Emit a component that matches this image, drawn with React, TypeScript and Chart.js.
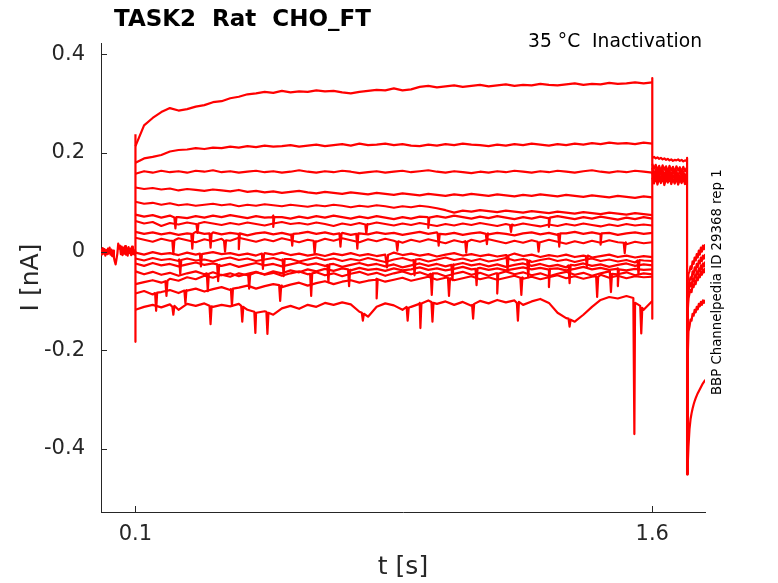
import React, { useEffect, useRef } from "react";
import { Chart, registerables } from "chart.js";

Chart.register(...registerables);

const RED = "#ff0000";
const AXIS = "#262626";
const FONT = '"DejaVu Sans"';

const titleText = "TASK2  Rat  CHO_FT";
const conditionText = "35 °C  Inactivation";
const sourceText = "BBP Channelpedia ID 29368 rep 1";

// axis ticks
const xTickValues = [0.1, 1.6];
const xTickLabels = ["0.1", "1.6"];
const yTickValues = [-0.4, -0.2, 0, 0.2, 0.4];
const yTickLabels = ["-0.4", "-0.2", "0", "0.2", "0.4"];

// holding current before the pulse (t in s, I in nA)
const holdT = [
  0, 0.0025, 0.005, 0.0075, 0.01, 0.0125, 0.015, 0.0175, 0.02, 0.0225,
  0.025, 0.0275, 0.03, 0.0325, 0.035, 0.0375, 0.04, 0.0425, 0.045, 0.0475,
  0.05, 0.0525, 0.055, 0.0575, 0.06, 0.0625, 0.065, 0.0675, 0.07, 0.0725,
  0.075, 0.0775, 0.08, 0.0825, 0.085, 0.0875, 0.09, 0.0925, 0.095, 0.0975,
  0.1,
];
const holdI = [
  0.004, -0.006, 0.007, -0.004, 0.005, -0.008, 0.003, -0.005, 0.006, -0.003,
  0.008, -0.006, 0.004, -0.009, 0.002, -0.012, -0.02, -0.026, -0.015, -0.004,
  0.016, 0.006, 0.012, -0.005, 0.01, -0.007, 0.008, -0.004, 0.011, -0.006,
  0.007, -0.008, 0.009, -0.003, 0.006, -0.007, 0.01, -0.005, 0.004, -0.006,
  0.002,
];

// capacitive transients at the voltage steps
const onsetT = [0.1, 0.1, 0.1];
const onsetI = [0, -0.183, 0.238];
const stepT = [1.6, 1.6, 1.6];
const stepI = [0.352, -0.136, 0.17];
const dropT = [1.701, 1.701];
const dropI = [0.19, -0.452];

// conditioning pulse samples
const pulseT = [
  0.1, 0.125, 0.15, 0.175, 0.2, 0.225, 0.25, 0.275, 0.3, 0.325,
  0.35, 0.375, 0.4, 0.425, 0.45, 0.475, 0.5, 0.525, 0.55, 0.575,
  0.6, 0.625, 0.65, 0.675, 0.7, 0.725, 0.75, 0.775, 0.8, 0.825,
  0.85, 0.875, 0.9, 0.925, 0.95, 0.975, 1.0, 1.025, 1.05, 1.075,
  1.1, 1.125, 1.15, 1.175, 1.2, 1.225, 1.25, 1.275, 1.3, 1.325,
  1.35, 1.375, 1.4, 1.425, 1.45, 1.475, 1.5, 1.525, 1.55, 1.575,
  1.6,
];

const sweep01 = [
  0.214, 0.256, 0.271, 0.283, 0.291, 0.286, 0.289, 0.294, 0.297, 0.303,
  0.305, 0.311, 0.314, 0.319, 0.321, 0.324, 0.322, 0.326, 0.323, 0.325,
  0.324, 0.327, 0.325, 0.326, 0.323, 0.321, 0.324, 0.326, 0.328, 0.327,
  0.331, 0.327, 0.329, 0.334, 0.336, 0.333, 0.335, 0.337, 0.334, 0.336,
  0.338, 0.335, 0.337, 0.339, 0.336, 0.338, 0.337, 0.34, 0.338, 0.337,
  0.339, 0.341, 0.338, 0.34, 0.339, 0.342, 0.34, 0.341, 0.343, 0.341,
  0.343,
];
const sweep02 = [
  0.18, 0.189, 0.192, 0.196, 0.203, 0.206, 0.207, 0.21, 0.208, 0.211,
  0.21, 0.213, 0.211, 0.214, 0.212, 0.215, 0.213, 0.214, 0.216, 0.213,
  0.215, 0.217, 0.214, 0.216, 0.218, 0.215, 0.219, 0.216, 0.217, 0.219,
  0.216, 0.218, 0.215, 0.214, 0.217, 0.215, 0.218, 0.216, 0.219, 0.217,
  0.216, 0.214, 0.217, 0.215, 0.218, 0.216, 0.219, 0.217, 0.215, 0.218,
  0.216, 0.219, 0.217, 0.22, 0.218, 0.221, 0.219, 0.22, 0.218, 0.221,
  0.219,
];
const sweep03 = [
  0.158, 0.163, 0.16, 0.164, 0.161, 0.163, 0.16, 0.164, 0.162, 0.165,
  0.161, 0.163, 0.16, 0.162, 0.164, 0.161, 0.163, 0.16, 0.162, 0.165,
  0.162, 0.16, 0.163, 0.161, 0.164, 0.162, 0.159, 0.161, 0.163, 0.16,
  0.162, 0.164, 0.161, 0.163, 0.165, 0.162, 0.16, 0.163, 0.161, 0.159,
  0.162, 0.16, 0.163, 0.161, 0.164, 0.162, 0.16, 0.163, 0.161, 0.164,
  0.162, 0.16, 0.163, 0.165, 0.162, 0.16, 0.163, 0.161, 0.164, 0.162,
  0.16,
];
const sweep04 = [
  0.13, 0.127, 0.129, 0.126, 0.128, 0.124, 0.127, 0.125, 0.123, 0.126,
  0.124, 0.122, 0.125, 0.121, 0.123, 0.12, 0.122, 0.119, 0.121, 0.123,
  0.12, 0.118, 0.121, 0.119, 0.117, 0.12, 0.118, 0.116, 0.119, 0.117,
  0.115, 0.118, 0.116, 0.114, 0.117, 0.115, 0.113, 0.116, 0.114, 0.117,
  0.115, 0.113, 0.116, 0.114, 0.112, 0.115, 0.113, 0.116, 0.114, 0.112,
  0.115, 0.113, 0.111, 0.114, 0.112, 0.11, 0.113, 0.111, 0.109, 0.112,
  0.11,
];
const sweep05 = [
  0.101, 0.097, 0.099, 0.095, 0.098, 0.094, 0.096, 0.093, 0.095, 0.097,
  0.094, 0.096, 0.092, 0.095, 0.093, 0.096, 0.094, 0.092, 0.095, 0.093,
  0.091, 0.094, 0.092, 0.095, 0.093, 0.09, 0.093, 0.091, 0.094, 0.092,
  0.089, 0.092, 0.09, 0.093, 0.091, 0.088, 0.084, 0.079, 0.083, 0.081,
  0.084, 0.082, 0.08, 0.083, 0.081, 0.079, 0.082, 0.08, 0.078, 0.081,
  0.079, 0.077, 0.08, 0.078, 0.076, 0.079, 0.077, 0.075, 0.078, 0.076,
  0.074,
];
const sweep06 = [
  0.075, 0.071, 0.074, 0.069, 0.073, 0.07, 0.068, 0.072, 0.069, 0.073,
  0.07, 0.074, 0.071, 0.068, 0.072, 0.069, 0.073, 0.07, 0.067, 0.071,
  0.068, 0.072, 0.069, 0.073, 0.07, 0.067, 0.071, 0.068, 0.072, 0.069,
  0.066, 0.07, 0.067, 0.071, 0.068, 0.072, 0.069, 0.073, 0.07, 0.067,
  0.071, 0.068, 0.072, 0.069, 0.066, 0.07, 0.067, 0.071, 0.068, 0.072,
  0.069, 0.066, 0.07, 0.067, 0.071, 0.068, 0.065, 0.069, 0.066, 0.07,
  0.067,
];
const sweep07 = [
  0.062, 0.057, 0.06, 0.052, 0.058, 0.055, 0.059, 0.056, 0.06, 0.057,
  0.054, 0.058, 0.055, 0.059, 0.056, 0.053, 0.057, 0.06, 0.056, 0.058,
  0.055, 0.059, 0.056, 0.052, 0.057, 0.054, 0.058, 0.055, 0.059, 0.056,
  0.053, 0.057, 0.054, 0.058, 0.055, 0.052, 0.056, 0.053, 0.057, 0.054,
  0.058, 0.055, 0.052, 0.056, 0.053, 0.057, 0.054, 0.051, 0.055, 0.052,
  0.056, 0.053, 0.057, 0.054, 0.051, 0.055, 0.052, 0.056, 0.053, 0.055,
  0.053,
];
const sweep08 = [
  0.04, 0.036, 0.039, 0.035, 0.038, 0.034, 0.037, 0.04, 0.036, 0.039,
  0.035, 0.038, 0.036, 0.033, 0.037, 0.039, 0.035, 0.038, 0.034, 0.037,
  0.04, 0.036, 0.039, 0.035, 0.038, 0.034, 0.037, 0.035, 0.039, 0.036,
  0.038, 0.034, 0.037, 0.04, 0.036, 0.039, 0.035, 0.038, 0.034, 0.037,
  0.039, 0.035, 0.038, 0.036, 0.033, 0.037, 0.039, 0.035, 0.038, 0.034,
  0.037, 0.04, 0.036, 0.039, 0.035, 0.038, 0.034, 0.037, 0.039, 0.036,
  0.038,
];
const sweep09 = [
  0.028, 0.024, 0.02, 0.026, 0.022, 0.027, 0.023, 0.019, 0.025, 0.021,
  0.026, 0.022, 0.028, 0.024, 0.02, 0.025, 0.021, 0.027, 0.023, 0.019,
  0.024, 0.02, 0.026, 0.022, 0.027, 0.023, 0.019, 0.025, 0.021, 0.026,
  0.022, 0.018, 0.024, 0.02, 0.025, 0.021, 0.017, 0.023, 0.019, 0.024,
  0.02, 0.025, 0.021, 0.017, 0.022, 0.018, 0.023, 0.019, 0.024, 0.02,
  0.016, 0.021, 0.017, 0.022, 0.018, 0.023, 0.019, 0.015, 0.02, 0.017,
  0.019,
];
const sweep10 = [
  -0.002, -0.006, -0.001, -0.005, -0.003, -0.007, -0.002, -0.006, -0.004, -0.001,
  -0.005, -0.003, -0.007, -0.004, -0.008, -0.003, -0.006, -0.002, -0.007, -0.004,
  -0.008, -0.005, -0.009, -0.004, -0.007, -0.003, -0.008, -0.005, -0.009, -0.006,
  -0.002, -0.007, -0.004, -0.008, -0.005, -0.01, -0.006, -0.003, -0.008, -0.005,
  -0.009, -0.006, -0.01, -0.007, -0.004, -0.009, -0.006, -0.011, -0.007, -0.01,
  -0.006, -0.011, -0.008, -0.012, -0.009, -0.006, -0.011, -0.008, -0.012, -0.009,
  -0.011,
];
const sweep11 = [
  -0.014, -0.018, -0.013, -0.017, -0.015, -0.019, -0.014, -0.018, -0.016, -0.02,
  -0.015, -0.012, -0.017, -0.014, -0.019, -0.016, -0.013, -0.018, -0.015, -0.02,
  -0.016, -0.012, -0.017, -0.014, -0.019, -0.015, -0.018, -0.013, -0.017, -0.021,
  -0.016, -0.013, -0.018, -0.015, -0.02, -0.016, -0.012, -0.017, -0.014, -0.019,
  -0.015, -0.02, -0.017, -0.013, -0.018, -0.015, -0.021, -0.017, -0.014, -0.019,
  -0.016, -0.021, -0.017, -0.014, -0.019, -0.016, -0.02, -0.017, -0.022, -0.018,
  -0.019,
];
const sweep12 = [
  -0.024, -0.029, -0.023, -0.028, -0.025, -0.03, -0.026, -0.022, -0.027, -0.024,
  -0.029, -0.025, -0.031, -0.027, -0.023, -0.028, -0.025, -0.03, -0.026, -0.022,
  -0.027, -0.024, -0.029, -0.025, -0.031, -0.027, -0.023, -0.028, -0.025, -0.03,
  -0.026, -0.032, -0.028, -0.024, -0.029, -0.025, -0.03, -0.027, -0.023, -0.028,
  -0.025, -0.03, -0.026, -0.031, -0.027, -0.024, -0.029, -0.025, -0.03, -0.027,
  -0.032, -0.028, -0.024, -0.029, -0.026, -0.031, -0.027, -0.024, -0.029, -0.026,
  -0.028,
];
const sweep13 = [
  -0.04, -0.046, -0.041, -0.047, -0.043, -0.049, -0.044, -0.04, -0.046, -0.042,
  -0.048, -0.044, -0.05, -0.045, -0.041, -0.047, -0.043, -0.049, -0.044, -0.04,
  -0.046, -0.042, -0.048, -0.044, -0.05, -0.045, -0.041, -0.047, -0.043, -0.049,
  -0.044, -0.04, -0.046, -0.042, -0.048, -0.044, -0.05, -0.045, -0.041, -0.047,
  -0.043, -0.049, -0.044, -0.04, -0.046, -0.042, -0.048, -0.044, -0.05, -0.045,
  -0.041, -0.047, -0.043, -0.049, -0.044, -0.04, -0.046, -0.042, -0.048, -0.044,
  -0.046,
];
const sweep14 = [
  -0.066, -0.062, -0.058, -0.063, -0.055, -0.059, -0.052, -0.056, -0.049, -0.053,
  -0.047, -0.051, -0.044, -0.048, -0.042, -0.046, -0.04, -0.044, -0.038, -0.042,
  -0.036, -0.04, -0.035, -0.039, -0.034, -0.038, -0.033, -0.037, -0.035, -0.039,
  -0.034, -0.038, -0.036, -0.032, -0.037, -0.034, -0.038, -0.035, -0.031, -0.036,
  -0.033, -0.037, -0.034, -0.038, -0.035, -0.032, -0.036, -0.033, -0.037, -0.034,
  -0.038, -0.035, -0.031, -0.036, -0.033, -0.037, -0.034, -0.038, -0.035, -0.037,
  -0.036,
];
const sweep15 = [
  -0.085, -0.08, -0.087, -0.082, -0.078, -0.084, -0.079, -0.075, -0.081, -0.076,
  -0.072, -0.078, -0.073, -0.069, -0.075, -0.07, -0.066, -0.072, -0.067, -0.063,
  -0.069, -0.064, -0.06, -0.066, -0.061, -0.058, -0.063, -0.059, -0.055, -0.061,
  -0.057, -0.053, -0.059, -0.055, -0.051, -0.057, -0.053, -0.058, -0.054, -0.05,
  -0.056, -0.052, -0.057, -0.053, -0.049, -0.055, -0.051, -0.056, -0.052, -0.048,
  -0.054, -0.05, -0.055, -0.051, -0.047, -0.053, -0.049, -0.054, -0.05, -0.052,
  -0.051,
];
const sweep16 = [
  -0.118, -0.112, -0.108, -0.113, -0.107, -0.118, -0.106, -0.11, -0.105, -0.112,
  -0.108, -0.111, -0.106, -0.118, -0.125, -0.121, -0.128, -0.115, -0.11, -0.116,
  -0.108, -0.112, -0.104, -0.108, -0.103, -0.107, -0.122, -0.132, -0.112, -0.105,
  -0.109, -0.118, -0.112, -0.104, -0.099, -0.106, -0.101, -0.108, -0.102, -0.11,
  -0.1, -0.105, -0.098, -0.103, -0.099, -0.108, -0.101, -0.096, -0.104, -0.124,
  -0.135, -0.142, -0.128, -0.112, -0.098, -0.092, -0.095, -0.09, -0.105, -0.118,
  -0.1,
];

// brief downward events (channel openings) on the noisier sweeps, [t, I]
const dips06 = [
  [0.213, 0.069], [0.216, 0.047], [0.219, 0.07],
  [0.497, 0.07], [0.5, 0.05], [0.503, 0.07],
  [0.947, 0.07], [0.95, 0.048], [0.953, 0.069],
  [1.297, 0.068], [1.3, 0.05], [1.303, 0.069],
];
const dips07 = [
  [0.277, 0.056], [0.28, 0.038], [0.283, 0.057],
  [0.767, 0.055], [0.77, 0.036], [0.773, 0.056],
  [1.187, 0.054], [1.19, 0.04], [1.193, 0.055],
];
const dips08 = [
  [0.262, 0.036], [0.265, 0.006], [0.268, 0.037],
  [0.315, 0.037], [0.318, 0.008], [0.321, 0.036],
  [0.397, 0.036], [0.4, 0.005], [0.403, 0.037],
  [0.552, 0.035], [0.555, 0.012], [0.558, 0.036],
  [0.692, 0.037], [0.695, 0.01], [0.698, 0.036],
  [0.741, 0.036], [0.744, 0.006], [0.747, 0.037],
  [0.977, 0.037], [0.98, 0.012], [0.983, 0.036],
  [1.117, 0.036], [1.12, 0.015], [1.123, 0.037],
  [1.327, 0.036], [1.33, 0.01], [1.333, 0.037],
  [1.447, 0.036], [1.45, 0.014], [1.453, 0.037],
];
const dips09 = [
  [0.207, 0.022], [0.21, -0.005], [0.213, 0.023],
  [0.357, 0.022], [0.36, 0.0], [0.363, 0.023],
  [0.617, 0.022], [0.62, -0.004], [0.623, 0.021],
  [0.857, 0.02], [0.86, 0.002], [0.863, 0.021],
  [1.057, 0.021], [1.06, -0.002], [1.063, 0.02],
  [1.267, 0.02], [1.27, 0.0], [1.273, 0.019],
  [1.517, 0.018], [1.52, -0.003], [1.523, 0.019],
];
const dips10 = [
  [0.287, -0.004], [0.29, -0.03], [0.293, -0.005],
  [0.467, -0.004], [0.47, -0.035], [0.473, -0.005],
  [0.827, -0.006], [0.83, -0.032], [0.833, -0.007],
  [1.177, -0.007], [1.18, -0.038], [1.183, -0.008],
  [1.407, -0.009], [1.41, -0.03], [1.413, -0.008],
];
const dips11 = [
  [0.227, -0.016], [0.23, -0.045], [0.233, -0.017],
  [0.527, -0.016], [0.53, -0.05], [0.533, -0.015],
  [0.907, -0.017], [0.91, -0.048], [0.913, -0.016],
  [1.237, -0.017], [1.24, -0.052], [1.243, -0.018],
  [1.557, -0.018], [1.56, -0.046], [1.563, -0.017],
];
const dips12 = [
  [0.337, -0.026], [0.34, -0.06], [0.343, -0.027],
  [0.657, -0.027], [0.66, -0.062], [0.663, -0.026],
  [1.017, -0.027], [1.02, -0.058], [1.023, -0.026],
  [1.357, -0.028], [1.36, -0.064], [1.363, -0.027],
];
const dips13 = [
  [0.307, -0.044], [0.31, -0.08], [0.313, -0.045],
  [0.607, -0.045], [0.61, -0.09], [0.613, -0.044],
  [0.957, -0.045], [0.96, -0.088], [0.963, -0.044],
  [1.147, -0.044], [1.15, -0.085], [1.153, -0.045],
  [1.477, -0.044], [1.48, -0.082], [1.483, -0.045],
];
const dips14 = [
  [0.187, -0.06], [0.19, -0.09], [0.193, -0.059],
  [0.427, -0.046], [0.43, -0.075], [0.433, -0.047],
  [0.717, -0.036], [0.72, -0.07], [0.723, -0.037],
  [1.087, -0.035], [1.09, -0.068], [1.093, -0.034],
  [1.297, -0.036], [1.3, -0.072], [1.303, -0.035],
  [1.497, -0.035], [1.5, -0.07], [1.503, -0.036],
];
const dips15 = [
  [0.157, -0.084], [0.16, -0.12], [0.163, -0.083],
  [0.242, -0.079], [0.245, -0.105], [0.248, -0.078],
  [0.377, -0.076], [0.38, -0.11], [0.383, -0.075],
  [0.517, -0.068], [0.52, -0.1], [0.523, -0.069],
  [0.797, -0.057], [0.8, -0.095], [0.803, -0.056],
  [1.007, -0.053], [1.01, -0.09], [1.013, -0.054],
  [1.217, -0.053], [1.22, -0.088], [1.223, -0.052],
  [1.437, -0.05], [1.44, -0.092], [1.443, -0.051],
];
const dips16 = [
  [0.207, -0.112], [0.21, -0.128], [0.213, -0.11],
  [0.315, -0.11], [0.318, -0.147], [0.321, -0.111],
  [0.407, -0.11], [0.41, -0.142], [0.413, -0.112],
  [0.445, -0.122], [0.448, -0.165], [0.451, -0.124],
  [0.48, -0.122], [0.483, -0.167], [0.486, -0.124],
  [0.757, -0.124], [0.76, -0.14], [0.763, -0.126],
  [0.887, -0.112], [0.89, -0.14], [0.893, -0.114],
  [0.924, -0.106], [0.927, -0.155], [0.93, -0.105],
  [0.959, -0.102], [0.962, -0.142], [0.965, -0.104],
  [1.077, -0.108], [1.08, -0.136], [1.083, -0.106],
  [1.207, -0.104], [1.21, -0.14], [1.213, -0.102],
  [1.357, -0.136], [1.36, -0.152], [1.363, -0.138],
  [1.545, -0.094], [1.548, -0.37], [1.551, -0.104],
  [1.565, -0.11], [1.568, -0.166], [1.571, -0.114],
];

// test pulse, 1.6 ... 1.7 s
const testT = [
  1.6, 1.605, 1.61, 1.615, 1.62, 1.625, 1.63, 1.635, 1.64, 1.645,
  1.65, 1.655, 1.66, 1.665, 1.67, 1.675, 1.68, 1.685, 1.69, 1.695,
  1.7,
];
const testTop = [0.19, 0.192, 0.189, 0.191, 0.188, 0.19, 0.187, 0.189, 0.186, 0.188, 0.185, 0.187, 0.184, 0.186, 0.185, 0.187, 0.184, 0.186, 0.183, 0.185, 0.184];
const testA = [0.178, 0.168, 0.176, 0.165, 0.174, 0.163, 0.175, 0.166, 0.173, 0.162, 0.174, 0.164, 0.172, 0.161, 0.173, 0.165, 0.171, 0.162, 0.172, 0.163, 0.17];
const testB = [0.16, 0.148, 0.158, 0.145, 0.157, 0.147, 0.159, 0.144, 0.156, 0.146, 0.158, 0.143, 0.155, 0.147, 0.157, 0.144, 0.154, 0.146, 0.156, 0.143, 0.152];
const testC = [0.15, 0.138, 0.152, 0.136, 0.149, 0.139, 0.151, 0.135, 0.148, 0.14, 0.15, 0.137, 0.147, 0.138, 0.149, 0.136, 0.146, 0.139, 0.148, 0.137, 0.145];
const testD = [0.17, 0.155, 0.167, 0.152, 0.169, 0.156, 0.166, 0.15, 0.168, 0.154, 0.165, 0.151, 0.167, 0.155, 0.164, 0.15, 0.166, 0.153, 0.163, 0.149, 0.16];

// recovery after the test pulse
const recT = [1.701, 1.703, 1.705, 1.708, 1.711, 1.714, 1.717, 1.72, 1.723, 1.726, 1.729, 1.732, 1.735, 1.738, 1.741, 1.744, 1.747, 1.75, 1.754];
const recA1 = [-0.3, -0.06, -0.045, -0.04, -0.03, -0.035, -0.02, -0.025, -0.012, -0.018, -0.005, -0.012, 0.002, -0.006, 0.008, 0.0, 0.012, 0.005, 0.015];
const recA2 = [-0.35, -0.09, -0.07, -0.06, -0.052, -0.055, -0.04, -0.046, -0.032, -0.038, -0.025, -0.031, -0.018, -0.024, -0.012, -0.019, -0.008, -0.014, -0.005];
const recA3 = [-0.4, -0.11, -0.08, -0.072, -0.064, -0.07, -0.055, -0.06, -0.048, -0.052, -0.04, -0.046, -0.034, -0.04, -0.028, -0.035, -0.024, -0.03, -0.02];
const recA4 = [-0.42, -0.12, -0.095, -0.085, -0.078, -0.082, -0.068, -0.072, -0.06, -0.066, -0.052, -0.058, -0.046, -0.052, -0.04, -0.047, -0.036, -0.042, -0.033];
const recB = [-0.45, -0.21, -0.162, -0.152, -0.138, -0.14, -0.126, -0.13, -0.118, -0.123, -0.112, -0.117, -0.106, -0.111, -0.102, -0.108, -0.099, -0.104, -0.098];
const recC = [-0.452, -0.43, -0.395, -0.36, -0.34, -0.328, -0.318, -0.31, -0.303, -0.297, -0.292, -0.287, -0.283, -0.279, -0.275, -0.271, -0.267, -0.264, -0.26];

const sweeps = [
  sweep01, sweep02, sweep03, sweep04, sweep05, sweep06, sweep07, sweep08,
  sweep09, sweep10, sweep11, sweep12, sweep13, sweep14, sweep15, sweep16,
];
const sweepDips: number[][][] = [
  [], [], [], [], [], dips06, dips07, dips08,
  dips09, dips10, dips11, dips12, dips13, dips14, dips15, dips16,
];

const pts = (ts: number[], vs: number[]) => ts.map((t, i) => ({ x: t, y: vs[i] }));

const trace = (data: { x: number; y: number }[]) => ({
  data,
  borderColor: RED,
  borderWidth: 2.2,
  borderJoinStyle: "round" as const,
  pointRadius: 0,
  showLine: true,
  tension: 0,
});

const inwardTicks = {
  id: "inwardTicks",
  afterDraw(chart: any) {
    const { ctx, chartArea } = chart;
    const x = chart.scales.x;
    const y = chart.scales.y;
    ctx.save();
    ctx.strokeStyle = AXIS;
    ctx.lineWidth = 1;
    ctx.beginPath();
    x.ticks.forEach((t: any) => {
      const px = Math.round(x.getPixelForValue(t.value)) + 0.5;
      ctx.moveTo(px, chartArea.bottom);
      ctx.lineTo(px, chartArea.bottom - 6);
    });
    y.ticks.forEach((t: any) => {
      const py = Math.round(y.getPixelForValue(t.value)) + 0.5;
      ctx.moveTo(chartArea.left, py);
      ctx.lineTo(chartArea.left + 6, py);
    });
    ctx.stroke();
    ctx.restore();
  },
};

const annotations = {
  id: "annotations",
  afterDraw(chart: any) {
    const { ctx } = chart;
    ctx.save();
    ctx.fillStyle = "#000";
    ctx.textBaseline = "alphabetic";
    ctx.font = `bold 23px ${FONT}`;
    ctx.textAlign = "left";
    ctx.fillText(titleText, 114, 26);
    ctx.font = `18.7px ${FONT}`;
    ctx.textAlign = "right";
    ctx.fillText(conditionText, 702, 47);
    ctx.translate(721, 395);
    ctx.rotate(-Math.PI / 2);
    ctx.font = `13.3px ${FONT}`;
    ctx.textAlign = "left";
    ctx.fillText(sourceText, 0, 0);
    ctx.restore();
  },
};

export default function App() {
  const canvasRef = useRef<HTMLCanvasElement>(null);

  useEffect(() => {
    if (!canvasRef.current) return;

    const datasets: any[] = [trace(pts(holdT, holdI))];
    sweeps.forEach((vals, k) => {
      const d = pts(pulseT, vals).concat(sweepDips[k].map((p) => ({ x: p[0], y: p[1] })));
      d.sort((a, b) => a.x - b.x);
      datasets.push(trace(d));
    });
    datasets.push(trace(pts(onsetT, onsetI)));
    [testTop, testA, testB, testC, testD].forEach((v) => datasets.push(trace(pts(testT, v))));
    datasets.push(trace(pts(stepT, stepI)));
    datasets.push(trace(pts(dropT, dropI)));
    [recA1, recA2, recA3, recA4, recB, recC].forEach((v) => datasets.push(trace(pts(recT, v))));

    const tickFont = { family: FONT, size: 21 };
    const titleFont = { family: FONT, size: 25 };

    const chart = new Chart(canvasRef.current, {
      type: "scatter",
      data: { datasets },
      options: {
        animation: false,
        responsive: false,
        layout: { padding: { top: 43, right: 73, left: 0, bottom: 0 } },
        plugins: { legend: { display: false }, tooltip: { enabled: false } },
        scales: {
          x: {
            type: "linear",
            min: 0,
            max: 1.753,
            grid: { display: false, drawTicks: false },
            border: { display: true, color: AXIS, width: 1 },
            afterBuildTicks: (s: any) => {
              s.ticks = xTickValues.map((v) => ({ value: v }));
            },
            afterFit: (s: any) => {
              s.height = 71;
            },
            ticks: {
              autoSkip: false,
              maxRotation: 0,
              padding: 10,
              color: AXIS,
              font: tickFont,
              callback: (_v: any, i: number) => xTickLabels[i],
            },
            title: {
              display: true,
              text: "t [s]",
              color: AXIS,
              font: titleFont,
              padding: { top: 0, bottom: 1 },
            },
          },
          y: {
            type: "linear",
            min: -0.528,
            max: 0.423,
            grid: { display: false, drawTicks: false },
            border: { display: true, color: AXIS, width: 1 },
            afterBuildTicks: (s: any) => {
              s.ticks = yTickValues.map((v) => ({ value: v }));
            },
            afterFit: (s: any) => {
              s.width = 101;
            },
            ticks: {
              autoSkip: false,
              padding: 16,
              color: AXIS,
              font: tickFont,
              callback: (_v: any, i: number) => yTickLabels[i],
            },
            title: {
              display: true,
              text: "I [nA]",
              color: AXIS,
              font: titleFont,
              padding: { top: 16, bottom: 0 },
            },
          },
        },
      },
      plugins: [inwardTicks, annotations],
    } as any);

    return () => chart.destroy();
  }, []);

  return (
    <div style={{ position: "fixed", left: 0, top: 0, width: 778, height: 583, background: "#fff" }}>
      <canvas ref={canvasRef} width={778} height={583} style={{ display: "block" }} />
    </div>
  );
}
